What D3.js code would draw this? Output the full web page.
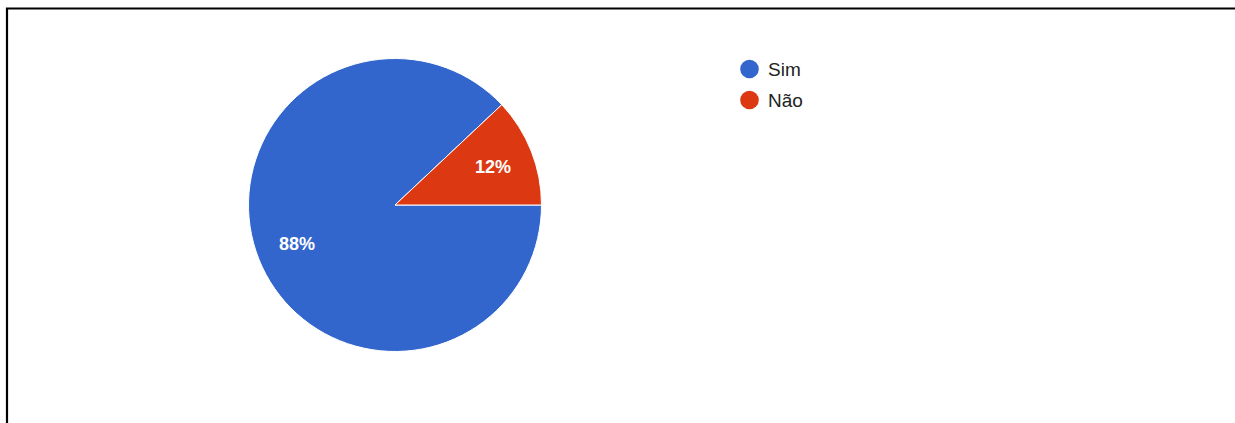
<!DOCTYPE html>
<html>
<head>
<meta charset="utf-8">
<script src="https://cdn.jsdelivr.net/npm/d3@7"></script>
<style>
  html, body { margin: 0; padding: 0; background: #fff; }
  svg { display: block; font-family: Arial, "Liberation Sans", sans-serif; }
</style>
</head>
<body>
<svg id="chart" width="1235" height="423"></svg>
<script>
// Answers to the yes/no question
const categories = ["Sim", "Não"];
const values = [88, 12];
const colors = ["#3366cc", "#dc3912"];

const svg = d3.select("#chart");
const W = 1235, H = 423;

// frame lines along the top and left edge
svg.append("path")
  .attr("d", `M7,${H} L7,8.5 L${W},8.5`)
  .attr("fill", "none")
  .attr("stroke", "#000")
  .attr("stroke-width", 2.2);

const cx = 395, cy = 205, R = 146.5;

const color = d3.scaleOrdinal().domain(categories).range(colors);

const pie = d3.pie()
  .value(d => d.value)
  .sort(null)
  .startAngle(Math.PI / 2)
  .endAngle(Math.PI / 2 + 2 * Math.PI);

const data = categories.map((c, i) => ({ name: c, value: values[i] }));
const arcs = pie(data);
const total = d3.sum(values);

const arc = d3.arc().innerRadius(0).outerRadius(R);
const labelArc = d3.arc().innerRadius(R * 0.72).outerRadius(R * 0.72);

const g = svg.append("g").attr("transform", `translate(${cx},${cy})`);

g.selectAll("path.slice")
  .data(arcs)
  .join("path")
  .attr("class", "slice")
  .attr("d", arc)
  .attr("fill", d => color(d.data.name))
  .attr("stroke", "#fff")
  .attr("stroke-width", 1);

g.selectAll("text.pct")
  .data(arcs)
  .join("text")
  .attr("class", "pct")
  .attr("transform", d => `translate(${labelArc.centroid(d)})`)
  .attr("text-anchor", "middle")
  .attr("dy", "0.36em")
  .attr("fill", "#fff")
  .attr("font-size", 18)
  .attr("font-weight", "bold")
  .text(d => Math.round(d.data.value / total * 100) + "%");

// legend
const legend = svg.append("g").attr("transform", "translate(749.5,69)");
const item = legend.selectAll("g")
  .data(categories)
  .join("g")
  .attr("transform", (d, i) => `translate(0,${i * 31})`);

item.append("circle")
  .attr("r", 9.3)
  .attr("fill", d => color(d));

item.append("text")
  .attr("x", 18.5)
  .attr("y", 7)
  .attr("font-size", 19)
  .attr("fill", "#222")
  .text(d => d);
</script>
</body>
</html>
